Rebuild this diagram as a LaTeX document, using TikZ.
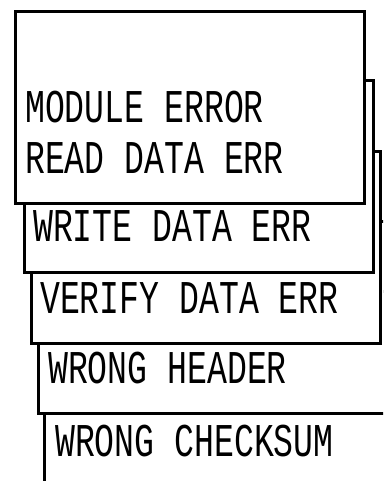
\documentclass[tikz,border=0pt]{standalone}
\usepackage{fontspec}
\usepackage{tikz}
\newfontfamily\panelfont[FakeStretch=0.705]{Liberation Mono}

\begin{document}
\begin{tikzpicture}[x=1pt,y=-1pt,
  panel/.style={draw,line width=3pt,fill=white,minimum width=349pt,minimum height=192pt,anchor=north west,inner sep=0pt},
  msg/.style={anchor=base west,inner sep=0pt,font=\panelfont\fontsize{47}{56}\selectfont}]

\useasboundingbox (0,0) rectangle (383,481);
\clip (0,0) rectangle (383,481);

% Back windows
\node[panel] (win5) at (43,290) {};
\node[msg] (err5) at (55,456) {WRONG CHECKSUM};

\node[panel] (win4) at (37,220) {};
\node[msg] (err4) at (48,383) {WRONG HEADER};

\node[panel] (win3) at (30,150) {};
\node[msg] (err3) at (40,313) {VERIFY DATA ERR};

\node[panel] (win2) at (23,79) {};
\node[msg] (err2) at (33,241) {WRITE DATA ERR};

% Front window
\node[panel] (win1) at (14,10) {};
\node[msg] (err1a) at (25,123) {MODULE ERROR};
\node[msg] (err1b) at (25,173) {READ DATA ERR};

\end{tikzpicture}
\end{document}
